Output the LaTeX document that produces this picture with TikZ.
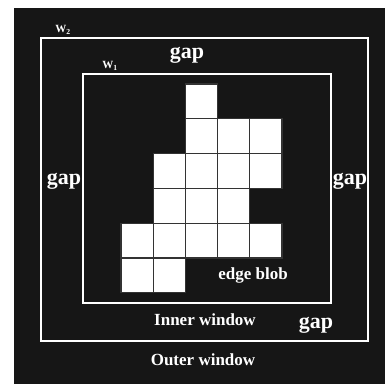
\documentclass[tikz,border=0pt]{standalone}
\usepackage{fontspec}
\setmainfont{Liberation Serif}
\definecolor{fondo}{HTML}{161616}

\begin{document}
\begin{tikzpicture}[x=1pt,y=-1pt,
    frame/.style={draw=white,line width=2.2pt},
    cell/.style={fill=white,draw=black!80,line width=1.3pt},
    txt/.style={text=white,inner sep=0pt,font=\bfseries\fontsize{17}{17}\selectfont},
    gaptxt/.style={text=white,inner sep=0pt,font=\bfseries\fontsize{22}{22}\selectfont},
    wtxt/.style={text=white,inner sep=0pt,font=\bfseries\fontsize{11}{11}\selectfont}]
  % fondo
  \fill[white] (0,0) rectangle (385,384);
  \fill[fondo] (14,8) rectangle (385,384);
  % ventanas
  \draw[frame] (41,38) rectangle (368,341);
  \draw[frame] (83,74) rectangle (331,303);
  % blob
  \foreach \c/\r in {2/0,2/1,3/1,4/1,1/2,2/2,3/2,4/2,1/3,2/3,3/3,
                     0/4,1/4,2/4,3/4,4/4,0/5,1/5}
    \filldraw[cell] (121+32.2*\c,84+34.8*\r) rectangle ++(32.2,34.8);
  % etiquetas
  \node[wtxt] (w2) at (63,30) {W\textsubscript{2}};
  \node[wtxt] (w1) at (110,66) {W\textsubscript{1}};
  \node[gaptxt] (gaptop) at (187,55) {gap};
  \node[gaptxt] (gapleft) at (64,181) {gap};
  \node[gaptxt] (gapright) at (350,181) {gap};
  \node[gaptxt] (gapbottom) at (316,325) {gap};
  \node[txt] (blob) at (253,275) {edge blob};
  \node[txt] (inner) at (205,320) {Inner window};
  \node[txt] (outer) at (203,360) {Outer window};
\end{tikzpicture}
\end{document}
